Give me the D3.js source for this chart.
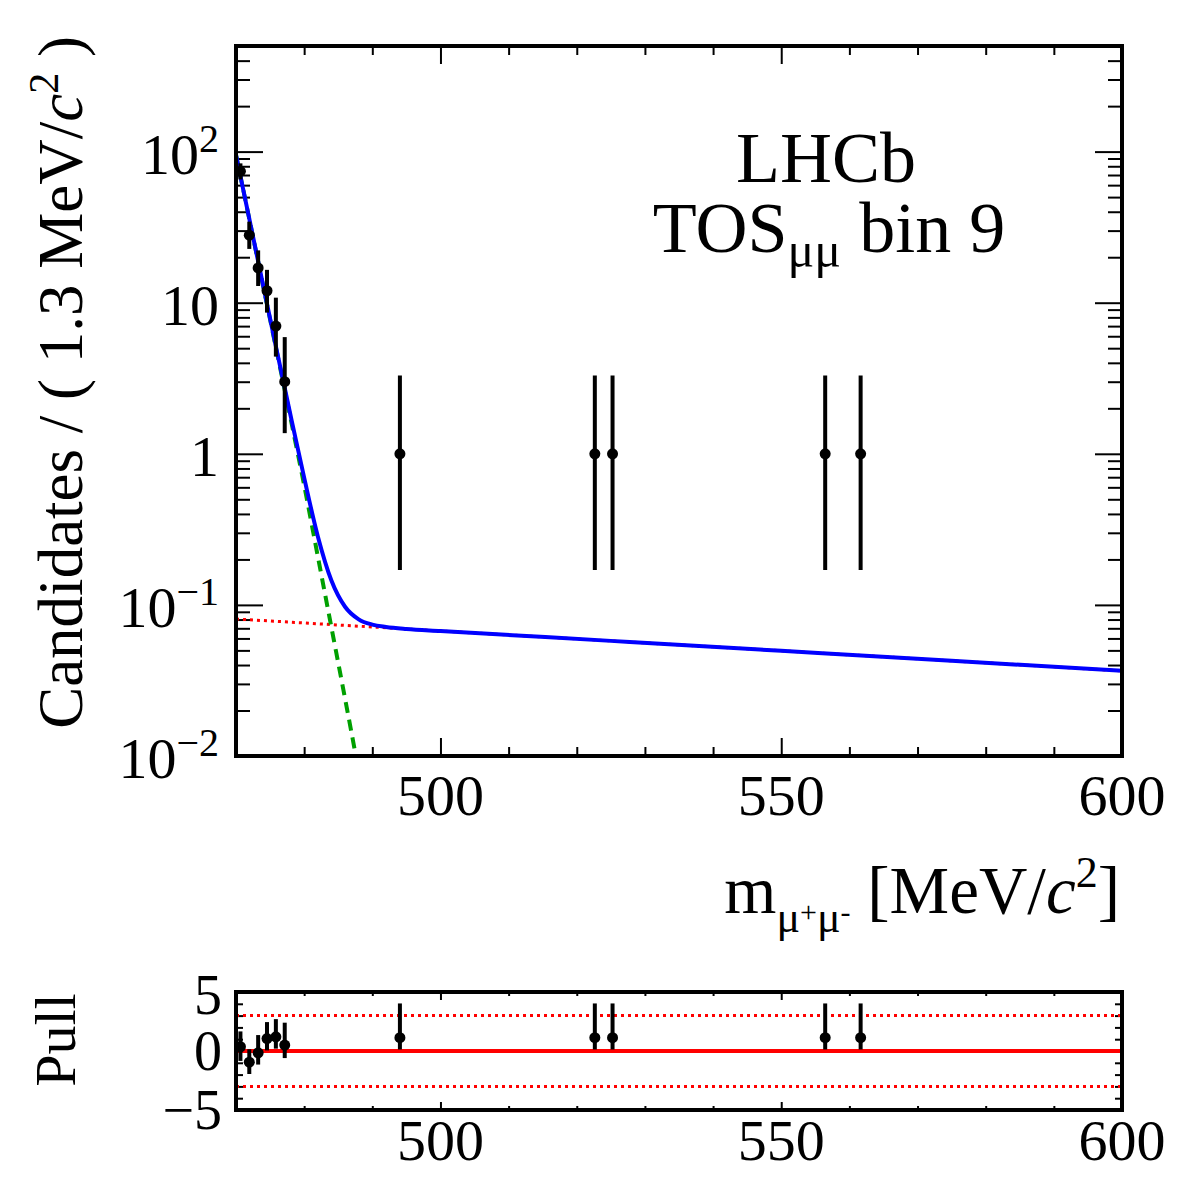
<!DOCTYPE html>
<html lang="en">
<head>
<meta charset="UTF-8">
<title>LHCb TOS bin 9</title>
<script src="https://d3js.org/d3.v7.min.js"></script>
<style>
  body { margin: 0; background: #fff; }
  svg text { font-family: "Liberation Serif", "Times New Roman", serif; fill: #000; }
  .domain { display: none; }
  .tick line { stroke: #000; stroke-width: 2; }
</style>
</head>
<body>
<svg id="chart" width="1182" height="1182"></svg>
<script>
// data points: bin centres (1.3 MeV bins from 470), counts, Poisson errors
const binMass  = [470.65, 471.95, 473.25, 474.55, 475.85, 477.15, 494.05, 522.65, 525.25, 556.45, 561.65];
const binCount = [74, 28, 17, 12, 7, 3, 1, 1, 1, 1, 1];
const errLow   = [8.6, 5.3, 4.1, 3.4, 2.6, 1.63, 0.83, 0.83, 0.83, 0.83, 0.83];
const errHigh  = [9.6, 6.4, 5.2, 4.5, 3.8, 2.92, 2.3, 2.3, 2.3, 2.3, 2.3];

// pull panel
const pullVal  = [0.36, -0.95, -0.15, 1.05, 1.2, 0.5, 1.13, 1.13, 1.13, 1.13, 1.13];
const pullLow  = [1.2, 1.0, 1.0, 1.0, 1.0, 1.1, 1.0, 1.0, 1.0, 1.0, 1.0];
const pullHigh = [1.3, 1.1, 1.5, 1.4, 1.5, 1.9, 2.9, 2.9, 2.9, 2.9, 2.9];

// fit curves
const sigMass = [470, 472, 474, 476, 478, 480, 482, 484, 486, 488, 490];
const sigVal  = [95, 35, 12.8, 4.7, 1.72, 0.62, 0.21, 0.071, 0.024, 0.008, 0.0027];
const bkgMass = [470, 500, 550, 600];
const bkgVal  = [0.0807, 0.0672, 0.0497, 0.0366];
const totMass = [470, 472, 474, 476, 478, 480, 482, 484, 486, 488, 490, 492, 495, 500, 525, 550, 575, 600];
const totVal  = [95.1, 35.1, 12.9, 4.78, 1.80, 0.695, 0.285, 0.145, 0.0972, 0.0803, 0.0741, 0.0715, 0.0693, 0.0672, 0.0578, 0.0497, 0.0427, 0.0366];

// tick labels
const xTickVals = [500, 550, 600];
const yTickVals = [0.01, 0.1, 1, 10, 100];
const yTickBase = ["10", "10", "1", "10", "10"];
const yTickExp  = ["\u22122", "\u22121", "", "", "2"];
const pullTickVals = [-5, 0, 5];
const pullTickText = ["\u22125", "0", "5"];

const svg = d3.select("#chart");
svg.append("rect").attr("width", 1182).attr("height", 1182).attr("fill", "#fff");

const L = 236, R = 1122, T = 46, B = 756;   // main frame
const PT = 992, PB = 1110;                  // pull frame

const x = d3.scaleLinear().domain([470, 600]).range([L, R]);
const y = d3.scaleLog().domain([0.01, 500]).range([B, T]);
const yp = d3.scaleLinear().domain([-5, 5]).range([PB, PT]);

// ---- ticks ----
const xMinor = x.ticks(13).filter(v => v % 50 !== 0);
const yMinor = y.ticks().filter(v => !yTickVals.some(t => Math.abs(t - v) / v < 1e-6));

function ticks(axisFn, scale, vals, size, tx, ty) {
    svg.append("g")
        .attr("transform", `translate(${tx},${ty})`)
        .call(axisFn(scale).tickValues(vals).tickSize(size).tickFormat(""));
}
// main x
ticks(d3.axisBottom, x, xTickVals, -18, 0, B);
ticks(d3.axisBottom, x, xMinor, -9, 0, B);
ticks(d3.axisTop, x, xTickVals, -18, 0, T);
ticks(d3.axisTop, x, xMinor, -9, 0, T);
// main y
ticks(d3.axisLeft, y, yTickVals, -27, L, 0);
ticks(d3.axisLeft, y, yMinor, -14, L, 0);
ticks(d3.axisRight, y, yTickVals, -27, R, 0);
ticks(d3.axisRight, y, yMinor, -14, R, 0);
// pull x
ticks(d3.axisBottom, x, xTickVals, -8, 0, PB);
ticks(d3.axisBottom, x, xMinor, -4, 0, PB);
ticks(d3.axisTop, x, xTickVals, -8, 0, PT);
ticks(d3.axisTop, x, xMinor, -4, 0, PT);
// pull y
const pMinor = yp.ticks(10).filter(v => v % 5 !== 0);
ticks(d3.axisLeft, yp, pullTickVals, -16, L, 0);
ticks(d3.axisLeft, yp, pMinor, -7, L, 0);
ticks(d3.axisRight, yp, pullTickVals, -16, R, 0);
ticks(d3.axisRight, yp, pMinor, -7, R, 0);

// ---- clip paths ----
const defs = svg.append("defs");
defs.append("clipPath").attr("id", "clipMain")
    .append("rect").attr("x", L).attr("y", T).attr("width", R - L).attr("height", B - T);
defs.append("clipPath").attr("id", "clipPull")
    .append("rect").attr("x", L).attr("y", PT).attr("width", R - L).attr("height", PB - PT);

// ---- curves ----
const main = svg.append("g").attr("clip-path", "url(#clipMain)");
const line = d3.line().x(d => x(d[0])).y(d => y(d[1])).curve(d3.curveMonotoneX);

main.append("path")
    .attr("d", line(d3.zip(bkgMass, bkgVal)))
    .attr("fill", "none").attr("stroke", "#ff0000").attr("stroke-width", 3)
    .attr("stroke-dasharray", "3,4");
main.append("path")
    .attr("d", line(d3.zip(sigMass, sigVal)))
    .attr("fill", "none").attr("stroke", "#00a000").attr("stroke-width", 4)
    .attr("stroke-dasharray", "11,7");
main.append("path")
    .attr("d", line(d3.zip(totMass, totVal)))
    .attr("fill", "none").attr("stroke", "#0000ff").attr("stroke-width", 4);

// ---- data points ----
const pts = main.append("g").selectAll("g")
    .data(binMass.map((m, i) => ({m, n: binCount[i], lo: errLow[i], hi: errHigh[i]})))
    .join("g");
pts.append("line")
    .attr("x1", d => x(d.m)).attr("x2", d => x(d.m))
    .attr("y1", d => y(d.n - d.lo)).attr("y2", d => y(d.n + d.hi))
    .attr("stroke", "#000").attr("stroke-width", 4);
pts.append("line")
    .attr("x1", d => x(d.m - 0.65)).attr("x2", d => x(d.m + 0.65))
    .attr("y1", d => y(d.n)).attr("y2", d => y(d.n))
    .attr("stroke", "#000").attr("stroke-width", 4);
pts.append("circle")
    .attr("cx", d => x(d.m)).attr("cy", d => y(d.n)).attr("r", 5.5).attr("fill", "#000");

// ---- pull panel ----
const pull = svg.append("g").attr("clip-path", "url(#clipPull)");
pull.append("line")
    .attr("x1", L).attr("x2", R).attr("y1", yp(0)).attr("y2", yp(0))
    .attr("stroke", "#ff0000").attr("stroke-width", 4);
[-3, 3].forEach(v => {
    pull.append("line")
        .attr("x1", L).attr("x2", R).attr("y1", yp(v)).attr("y2", yp(v))
        .attr("stroke", "#ff0000").attr("stroke-width", 3).attr("stroke-dasharray", "3,4");
});
const pp = pull.append("g").selectAll("g")
    .data(binMass.map((m, i) => ({m, p: pullVal[i], lo: pullLow[i], hi: pullHigh[i]})))
    .join("g");
pp.append("line")
    .attr("x1", d => x(d.m)).attr("x2", d => x(d.m))
    .attr("y1", d => yp(d.p - d.lo)).attr("y2", d => yp(d.p + d.hi))
    .attr("stroke", "#000").attr("stroke-width", 4);
pp.append("line")
    .attr("x1", d => x(d.m - 0.65)).attr("x2", d => x(d.m + 0.65))
    .attr("y1", d => yp(d.p)).attr("y2", d => yp(d.p))
    .attr("stroke", "#000").attr("stroke-width", 4);
pp.append("circle")
    .attr("cx", d => x(d.m)).attr("cy", d => yp(d.p)).attr("r", 5.5).attr("fill", "#000");

// ---- frames ----
svg.append("rect").attr("x", L).attr("y", T).attr("width", R - L).attr("height", B - T)
    .attr("fill", "none").attr("stroke", "#000").attr("stroke-width", 4);
svg.append("rect").attr("x", L).attr("y", PT).attr("width", R - L).attr("height", PB - PT)
    .attr("fill", "none").attr("stroke", "#000").attr("stroke-width", 4);

// ---- tick labels ----
const fs = 58;
xTickVals.forEach(v => {
    svg.append("text").attr("x", x(v)).attr("y", 815).attr("text-anchor", "middle")
        .attr("font-size", fs).text(v);
    svg.append("text").attr("x", x(v)).attr("y", 1160).attr("text-anchor", "middle")
        .attr("font-size", fs).text(v);
});
yTickVals.forEach((v, i) => {
    const t = svg.append("text").attr("x", 219).attr("y", y(v) + 22)
        .attr("text-anchor", "end").attr("font-size", fs);
    t.append("tspan").text(yTickBase[i]);
    if (yTickExp[i]) t.append("tspan").attr("dy", -22).attr("font-size", 40).text(yTickExp[i]);
});
pullTickVals.forEach((v, i) => {
    svg.append("text").attr("x", 222).attr("y", yp(v) + 19 + (v === 5 ? 3 : 0))
        .attr("text-anchor", "end").attr("font-size", 56).text(pullTickText[i]);
});

// ---- titles ----
const yt = svg.append("text")
    .attr("transform", "translate(82,36) rotate(-90)")
    .attr("text-anchor", "end").attr("font-size", 63);
yt.append("tspan").text("Candidates / ( 1.3 MeV/");
yt.append("tspan").attr("font-style", "italic").text("c");
yt.append("tspan").attr("dy", -24).attr("font-size", 42).text("2");
yt.append("tspan").attr("dy", 24).text(" )");

const xt = svg.append("text").attr("x", 1120).attr("y", 913)
    .attr("text-anchor", "end").attr("font-size", 67);
xt.append("tspan").text("m");
xt.append("tspan").attr("dy", 19).attr("font-size", 44).text("\u03bc");
xt.append("tspan").attr("dy", -10).attr("font-size", 30).text("+");
xt.append("tspan").attr("dy", 10).attr("font-size", 44).text("\u03bc");
xt.append("tspan").attr("dy", -10).attr("font-size", 30).text("-");
xt.append("tspan").attr("dy", -9).text(" [MeV/");
xt.append("tspan").attr("font-style", "italic").text("c");
xt.append("tspan").attr("dy", -26).attr("font-size", 44).text("2");
xt.append("tspan").attr("dy", 26).text("]");

svg.append("text")
    .attr("transform", "translate(75,1040) rotate(-90)")
    .attr("text-anchor", "middle").attr("font-size", 58).text("Pull");

svg.append("text").attr("x", 826).attr("y", 182).attr("text-anchor", "middle")
    .attr("font-size", 72).text("LHCb");
const lt = svg.append("text").attr("x", 829).attr("y", 252).attr("text-anchor", "middle")
    .attr("font-size", 72);
lt.append("tspan").text("TOS");
lt.append("tspan").attr("dy", 15).attr("font-size", 50).text("\u03bc\u03bc");
lt.append("tspan").attr("dy", -15).text(" bin 9");
</script>
</body>
</html>
